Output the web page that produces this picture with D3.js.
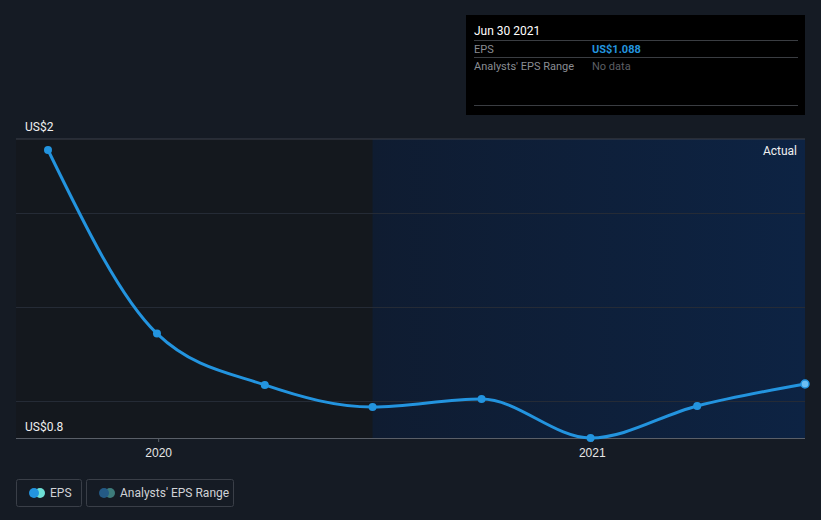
<!DOCTYPE html>
<html>
<head>
<meta charset="utf-8">
<script src="https://cdn.jsdelivr.net/npm/d3@7"></script>
<style>
  body { margin: 0; background: #151b24; }
  svg { display: block; font-family: Roboto, "Noto Sans", sans-serif; }
</style>
</head>
<body>
<div class="d3-chart"></div>
<script>
const dates = ["2019-09-30", "2019-12-31", "2020-03-31", "2020-06-30", "2020-09-30", "2020-12-31", "2021-03-31", "2021-06-30"];
const eps = [2.336, 1.357, 1.083, 0.965, 1.008, 0.80, 0.971, 1.088];
const gridValues = [1.0, 1.5, 2.0];
const yLabels = ["US$2", "US$0.8"];
const xTicks = ["2020-01-01", "2021-01-01"];
const forecastStart = "2020-06-30";

const width = 821, height = 520;
const plot = {left: 16, right: 805, top: 139, bottom: 438};
const parse = d3.timeParse("%Y-%m-%d");
const data = dates.map((d, i) => ({date: parse(d), value: eps[i]}));

const svg = d3.select(".d3-chart")
  .append("svg")
  .attr("width", width)
  .attr("height", height);

const x = d3.scaleTime()
  .domain([parse("2019-09-03"), parse("2021-06-30")])
  .range([plot.left, plot.right]);

const y = d3.scaleLinear()
  .domain([0.8, 0.8 + (plot.bottom - plot.top) / 187.5])
  .range([plot.bottom, plot.top]);

// shaded zones
const defs = svg.append("defs");
const grad = defs.append("linearGradient").attr("id", "future").attr("x1", 0).attr("x2", 1);
grad.append("stop").attr("offset", 0).attr("stop-color", "#0f1c31");
grad.append("stop").attr("offset", 1).attr("stop-color", "#0d2343");

svg.append("rect")
  .attr("x", plot.left).attr("y", plot.top)
  .attr("width", x(parse(forecastStart)) - plot.left)
  .attr("height", plot.bottom - plot.top)
  .attr("fill", "#14181e");
svg.append("rect")
  .attr("x", x(parse(forecastStart))).attr("y", plot.top)
  .attr("width", plot.right - x(parse(forecastStart)))
  .attr("height", plot.bottom - plot.top)
  .attr("fill", "url(#future)");

// grid
svg.append("line")
  .attr("x1", plot.left).attr("x2", plot.right)
  .attr("y1", plot.top).attr("y2", plot.top)
  .attr("stroke", "#3c414b").attr("stroke-width", 1);
svg.append("g")
  .selectAll("line")
  .data(gridValues)
  .join("line")
  .attr("x1", plot.left).attr("x2", plot.right)
  .attr("y1", d => Math.round(y(d)) + 0.5).attr("y2", d => Math.round(y(d)) + 0.5)
  .attr("stroke", "#252b36").attr("stroke-width", 1);

// x axis
const xAxis = svg.append("g")
  .attr("transform", `translate(0, ${plot.bottom})`)
  .call(d3.axisBottom(x).tickValues(xTicks.map(parse)).tickFormat(d3.timeFormat("%Y")).tickSize(4).tickPadding(6));
xAxis.select(".domain").attr("stroke", "#5a5f68").attr("d", `M${plot.left},0.5H${plot.right}`);
xAxis.selectAll(".tick line").attr("stroke", "#5a5f68");
xAxis.selectAll(".tick text").attr("fill", "#e6e6e6").attr("font-size", 12);

// y labels
svg.append("text").attr("x", 25).attr("y", plot.top - 8)
  .attr("fill", "#f0f0f0").attr("font-size", 12).text(yLabels[0]);
svg.append("text").attr("x", 25).attr("y", plot.bottom - 7)
  .attr("fill", "#f0f0f0").attr("font-size", 12).text(yLabels[1]);

svg.append("text").attr("x", plot.right - 8).attr("y", plot.top + 16)
  .attr("text-anchor", "end").attr("fill", "#f0f0f0").attr("font-size", 12).text("Actual");

// line
const line = d3.line()
  .x(d => x(d.date))
  .y(d => y(d.value))
  .curve(d3.curveMonotoneX);
svg.append("path")
  .datum(data)
  .attr("fill", "none")
  .attr("stroke", "#2394df")
  .attr("stroke-width", 3)
  .attr("d", line);

svg.append("g")
  .selectAll("circle")
  .data(data)
  .join("circle")
  .attr("cx", d => x(d.date))
  .attr("cy", d => y(d.value))
  .attr("r", 4)
  .attr("fill", (d, i) => i === data.length - 1 ? "#6cc0f5" : "#2394df")
  .attr("stroke", (d, i) => i === data.length - 1 ? "#2394df" : "none")
  .attr("stroke-width", 1.5);

// tooltip
const tip = svg.append("g").attr("transform", "translate(466, 15)");
tip.append("rect").attr("width", 339).attr("height", 100).attr("fill", "#000");
tip.append("text").attr("x", 8).attr("y", 20).attr("fill", "#fff").attr("font-size", 12)
  .text(d3.timeFormat("%b %d %Y")(data[data.length - 1].date));
[25.5, 42.5, 90.5].forEach(yy => {
  tip.append("line").attr("x1", 8).attr("x2", 332).attr("y1", yy).attr("y2", yy)
    .attr("stroke", "#3a3d42");
});
tip.append("text").attr("x", 8).attr("y", 38).attr("fill", "#8a8d93").attr("font-size", 11).text("EPS");
tip.append("text").attr("x", 126).attr("y", 38).attr("fill", "#2394df").attr("font-size", 11)
  .attr("font-weight", "bold").text("US$" + eps[eps.length - 1].toFixed(3));
tip.append("text").attr("x", 8).attr("y", 55).attr("fill", "#8a8d93").attr("font-size", 11).text("Analysts' EPS Range");
tip.append("text").attr("x", 126).attr("y", 55).attr("fill", "#5c5f64").attr("font-size", 11).text("No data");

// legend
const legendItems = [
  {label: "EPS", w: 65, c1: "#2394df", c2: "#6de0d6"},
  {label: "Analysts' EPS Range", w: 147, c1: "#245a85", c2: "#3d7c7b"}
];
let lx = 16;
legendItems.forEach(item => {
  const g = svg.append("g").attr("transform", `translate(${lx}, 479)`);
  g.append("rect").attr("x", 0.5).attr("y", 0.5).attr("width", item.w).attr("height", 27)
    .attr("rx", 2).attr("fill", "none").attr("stroke", "#3a3f48");
  g.append("circle").attr("cx", 24).attr("cy", 14).attr("r", 5).attr("fill", item.c2);
  g.append("circle").attr("cx", 18).attr("cy", 14).attr("r", 5).attr("fill", item.c1);
  g.append("text").attr("x", 34).attr("y", 18).attr("fill", "#d0d2d6").attr("font-size", 12).text(item.label);
  lx += item.w + 5;
});
</script>
</body>
</html>
